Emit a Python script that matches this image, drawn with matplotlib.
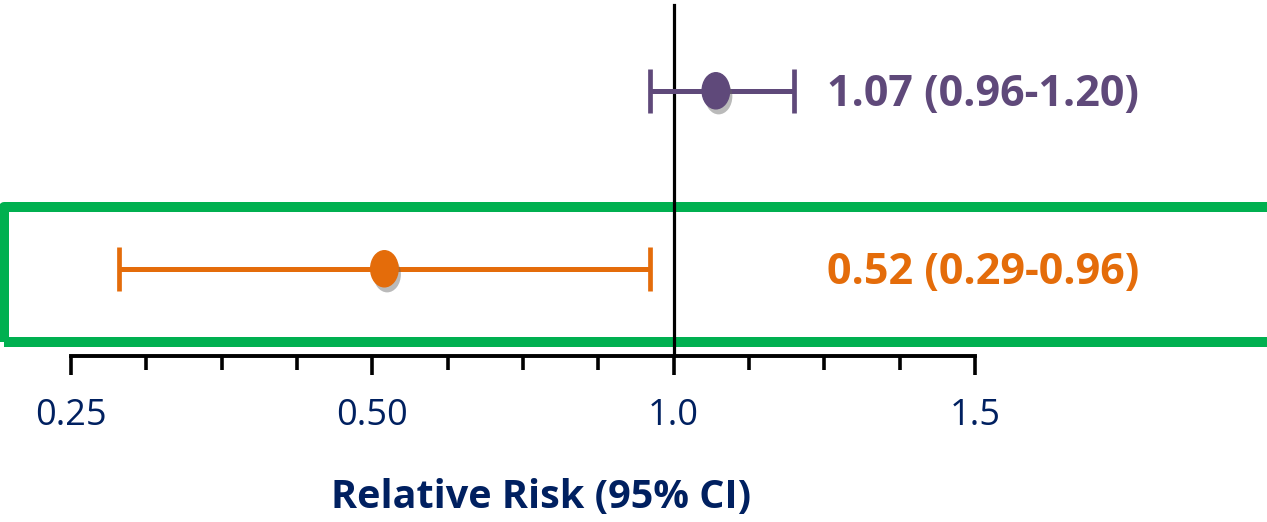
import numpy as np
import matplotlib
matplotlib.use("Agg")
import matplotlib.pyplot as plt
import matplotlib.patheffects as pe
from matplotlib.patches import Rectangle
from matplotlib.path import Path
from matplotlib.transforms import Affine2D, blended_transform_factory

plt.rcParams['font.family'] = ['Open Sans', 'DejaVu Sans']

# data
rows = [2, 1]
rr = [1.07, 0.52]
ci_lo = [0.96, 0.29]
ci_hi = [1.20, 0.96]
colors = ['#5F497A', '#E46C0A']
major_ticks = [0.25, 0.5, 1.0, 1.5]
major_labels = ['0.25', '0.50', '1.0', '1.5']

# axis of the original is evenly spaced between the major ticks
anchor_u = np.arange(len(major_ticks), dtype=float)

def fwd(v):
    v = np.asarray(v, dtype=float)
    out = np.interp(v, major_ticks, anchor_u)
    out = out + np.where(v < major_ticks[0], (v - major_ticks[0]) / 0.25, 0)
    out = out + np.where(v > major_ticks[-1], (v - major_ticks[-1]) / 0.5, 0)
    return out

def inv(u):
    u = np.asarray(u, dtype=float)
    out = np.interp(u, anchor_u, major_ticks)
    out = out + np.where(u < 0, u * 0.25, 0)
    out = out + np.where(u > anchor_u[-1], (u - anchor_u[-1]) * 0.5, 0)
    return out

minor_u = [u for u in np.arange(0, anchor_u[-1] + 0.01, 0.25) if u % 1 != 0]
minor_ticks = inv(minor_u)

navy = '#002060'
W, H = 1267, 522
fig = plt.figure(figsize=(W / 100, H / 100), dpi=100)
ax = fig.add_axes([71 / W, (H - 356) / H, 904 / W, 356 / H])
ax.set_xscale('function', functions=(fwd, inv))
ax.set_xlim(0.25, 1.5)
ax.set_ylim(0.51, 2.51)

# green highlight box round the second row
box = Rectangle((4 / W, (H - 342) / H), 1.2, (342 - 207.5) / H,
                transform=fig.transFigure, fill=False, edgecolor='#00B050',
                linewidth=7.2, joinstyle='round', clip_on=False, zorder=1)
ax.add_patch(box)

ax.axvline(1.0, ymin=0, ymax=(356 - 5) / 356, color='black', lw=2.3, zorder=3)

ellipse = Path.unit_circle().transformed(Affine2D().scale(0.76, 1.0))
txt_tr = blended_transform_factory(ax.transAxes, ax.transData)
for y, m, lo, hi, c in zip(rows, rr, ci_lo, ci_hi, colors):
    ax.errorbar([m], [y], xerr=[[m - lo], [hi - m]], fmt='none', ecolor=c,
                elinewidth=3.6, capsize=16, capthick=3.4, zorder=4)
    ax.plot([m], [y], linestyle='none', marker=ellipse, markersize=26,
            color=c, zorder=5,
            path_effects=[pe.SimplePatchShadow(offset=(2, -4), shadow_rgbFace='#666666', alpha=0.45),
                          pe.Normal()])
    ax.text(0.836, y - 0.02, f'{m:.2f} ({lo:.2f}-{hi:.2f})', transform=txt_tr,
            ha='left', va='center', fontsize=31, fontweight='bold', color=c)

for s in ['top', 'right', 'left']:
    ax.spines[s].set_visible(False)
ax.spines['bottom'].set_linewidth(2.8)
ax.spines['bottom'].set_capstyle('projecting')
ax.set_yticks([])
ax.set_xticks(major_ticks)
ax.set_xticklabels(major_labels)
ax.set_xticks(minor_ticks, minor=True)
ax.tick_params(axis='x', which='major', direction='out', length=14, width=2.6,
               labelsize=26, labelcolor=navy, pad=16)
ax.tick_params(axis='x', which='minor', direction='out', length=10, width=2.6)

ax.set_xlabel('Relative Risk (95% CI)', fontsize=28.5, fontweight='bold',
              color=navy, va='center')
ax.xaxis.set_label_coords((541 - 71) / 904, (356 - 497) / 356)

fig.savefig('out.png', dpi=100)
